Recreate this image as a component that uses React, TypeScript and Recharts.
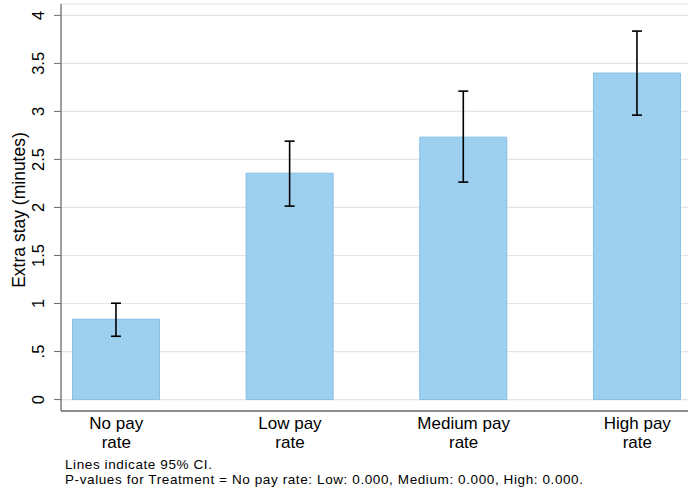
import React from "react";
import {
  ComposedChart,
  Bar,
  ErrorBar,
  XAxis,
  YAxis,
  CartesianGrid,
} from "recharts";

const categories = ["No pay|rate", "Low pay|rate", "Medium pay|rate", "High pay|rate"];
const means = [0.836, 2.357, 2.732, 3.399];
const ciLow = [0.659, 2.014, 2.264, 2.961];
const ciHigh = [1.003, 2.69, 3.211, 3.836];
const yTicks = [0, 0.5, 1, 1.5, 2, 2.5, 3, 3.5, 4];
const notes = [
  "Lines indicate 95% CI.",
  "P-values for Treatment = No pay rate: Low: 0.000, Medium: 0.000, High: 0.000.",
];

const FONT = '"Liberation Sans", Arial, Helvetica, sans-serif';
const AXIS = "#6a6a6a";

const data = categories.map((c, i) => ({
  pos: i + 1,
  label: c,
  mean: means[i],
  err: [means[i] - ciLow[i], ciHigh[i] - means[i]],
}));

const fmtY = (v: number) => (v === 0.5 ? ".5" : String(v));

const YTick = (props: any) => {
  const { y, payload } = props;
  const tx = 44;
  return (
    <text
      x={tx}
      y={y}
      transform={`rotate(-90, ${tx}, ${y})`}
      textAnchor="middle"
      fontSize={16.5}
      fontFamily={FONT}
      fill="#000"
    >
      {fmtY(payload.value)}
    </text>
  );
};

// two-line category labels under the bars
const XTick = (props: any) => {
  const { x, payload } = props;
  const lines = categories[payload.value - 1].split("|");
  return (
    <g>
      <text x={x} y={428.5} textAnchor="middle" fontSize={17} fontFamily={FONT} fill="#000">
        {lines[0]}
      </text>
      <text x={x} y={448} textAnchor="middle" fontSize={17} fontFamily={FONT} fill="#000">
        {lines[1]}
      </text>
    </g>
  );
};

export default function App() {
  return (
    <div style={{ position: "absolute", left: 0, top: 0, width: 688, height: 494, background: "#fff" }}>
      <ComposedChart
        width={688}
        height={494}
        data={data}
        margin={{ top: 4, right: 0, bottom: 0, left: 0 }}
      >
        <CartesianGrid vertical={false} stroke="#e4e4e4" strokeWidth={1.2} />
        <XAxis
          type="number"
          dataKey="pos"
          domain={[0.6816, 4.292]}
          ticks={[1, 2, 3, 4]}
          tick={<XTick />}
          tickLine={false}
          axisLine={{ stroke: AXIS, strokeWidth: 1.3 }}
          height={83}
          allowDataOverflow
        />
        <YAxis
          type="number"
          domain={[-0.119, 4.118]}
          ticks={yTicks}
          tick={<YTick />}
          tickLine={{ stroke: AXIS, strokeWidth: 1 }}
          tickSize={7}
          axisLine={{ stroke: AXIS, strokeWidth: 1.3 }}
          width={61}
          allowDataOverflow
        />
        <Bar
          dataKey="mean"
          fill="#9dcfee"
          stroke="#86bfe6"
          strokeWidth={1}
          barSize={87}
          isAnimationActive={false}
        >
          <ErrorBar dataKey="err" width={5} stroke="#000" strokeWidth={1.6} direction="y" />
        </Bar>
      </ComposedChart>
      <div
        style={{
          position: "absolute",
          left: 19,
          top: 210,
          transform: "translate(-50%, -50%) rotate(-90deg)",
          whiteSpace: "nowrap",
          fontFamily: FONT,
          fontSize: 17.5,
          color: "#000",
        }}
      >
        Extra stay (minutes)
      </div>
      <div
        style={{
          position: "absolute",
          left: 65,
          top: 458,
          fontFamily: FONT,
          fontSize: 13.5,
          letterSpacing: 0.6,
          lineHeight: "14.5px",
          color: "#000",
          whiteSpace: "nowrap",
        }}
      >
        {notes.map((n) => (
          <div key={n}>{n}</div>
        ))}
      </div>
    </div>
  );
}
